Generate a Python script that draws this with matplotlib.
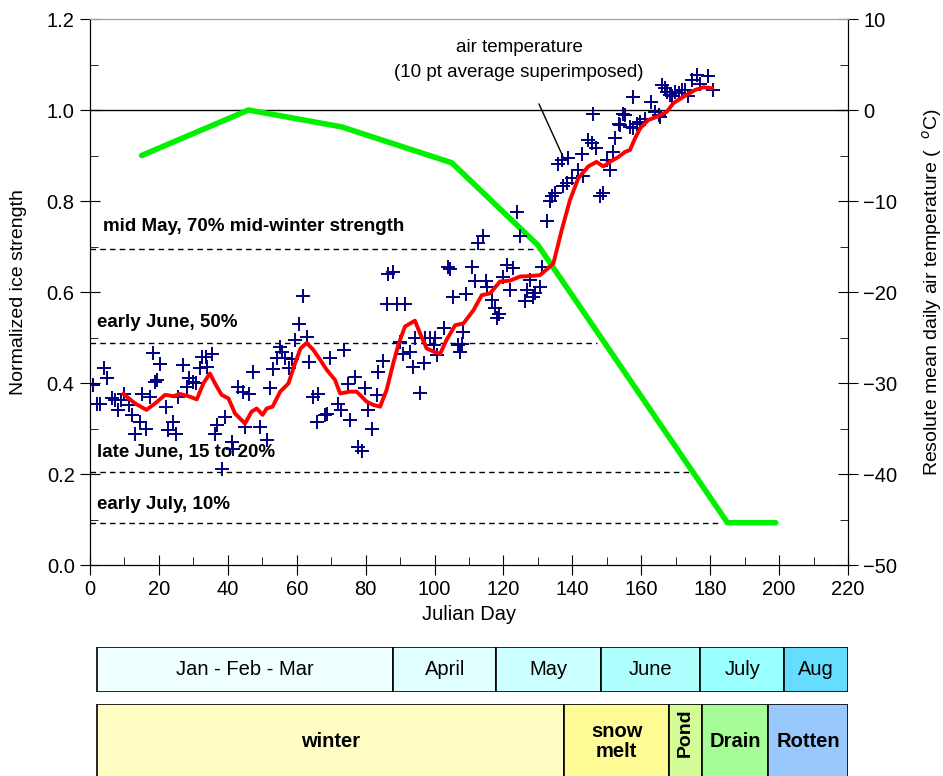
import matplotlib
matplotlib.use('Agg')
import matplotlib.pyplot as plt
import numpy as np

plt.rcParams['font.family'] = ['Liberation Sans', 'DejaVu Sans']

# ice strength (left axis)
ice_day = [15, 46, 73, 105, 130, 185, 199]
ice_strength = [0.90, 1.00, 0.963, 0.884, 0.703, 0.093, 0.093]

# daily air temperature, Resolute (right axis)
temp_day = [1.0, 1.9, 2.9, 4.1, 5.0, 6.3, 7.3, 8.2, 8.9, 9.9, 11.4, 12.1, 13.1, 14.5,
            15.0, 16.4, 17.4, 18.2, 18.9, 19.5, 20.3, 22.1, 22.7, 24.0, 25.1, 25.6,
            26.9, 28.1, 28.8, 30.0, 30.8, 31.9, 32.4, 33.7, 33.9, 35.3, 36.3, 36.8,
            38.2, 39.2, 41.1, 41.6, 43.0, 44.5, 45.0, 46.2, 47.2, 49.3, 51.3, 52.2,
            53.0, 54.2, 55.2, 55.6, 56.6, 57.9, 58.5, 59.5, 60.8, 61.7, 62.9, 63.7,
            64.8, 65.8, 66.3, 68.2, 68.7, 69.7, 72.1, 72.9, 73.8, 75.0, 75.5, 76.9,
            77.7, 78.9, 79.8, 80.8, 81.8, 83.2, 83.7, 85.1, 86.1, 86.6, 87.8, 89.0,
            90.0, 90.9, 91.4, 92.9, 93.8, 94.3, 95.8, 96.8, 97.2, 98.7, 99.7, 100.1,
            100.6, 102.6, 104.0, 104.5, 105.5, 106.9, 107.4, 107.9, 108.4, 109.0,
            110.8, 111.8, 112.7, 114.2, 114.8, 115.1, 116.8, 117.6, 118.0, 118.7,
            120.0, 120.9, 121.9, 122.9, 123.8, 124.8, 126.3, 126.7, 127.7, 128.7,
            129.2, 130.6, 131.3, 132.5, 133.5, 134.0, 135.0, 135.9, 136.9, 137.4,
            138.4, 138.8, 139.8, 141.7, 142.7, 143.2, 144.6, 145.6, 146.1, 147.0,
            148.0, 149.0, 150.0, 150.9, 151.9, 152.4, 153.4, 153.8, 154.8, 155.3,
            156.7, 157.7, 157.7, 158.7, 159.7, 161.1, 162.8, 164.0, 165.0, 165.5,
            166.0, 167.0, 167.4, 168.4, 168.9, 169.8, 170.8, 171.7, 172.7, 173.6,
            174.6, 176.1, 177.1, 179.5, 180.9]
temp_c = [-30.2, -32.3, -32.3, -28.4, -29.4, -31.7, -31.9, -33.0, -31.9, -31.2, -32.4,
          -33.5, -35.6, -34.3, -31.2, -35.0, -31.5, -26.7, -29.9, -29.7, -27.9, -32.6,
          -35.2, -34.3, -35.6, -31.5, -28.0, -30.4, -29.4, -29.9, -30.0, -28.4, -27.1,
          -27.1, -28.2, -26.8, -35.6, -34.6, -39.5, -33.7, -36.5, -37.2, -30.4, -31.0,
          -34.8, -31.2, -28.8, -34.8, -36.3, -30.6, -28.5, -27.3, -26.0, -26.6, -27.3,
          -28.4, -27.4, -25.3, -23.5, -20.4, -24.9, -27.7, -31.5, -34.3, -31.2, -33.5,
          -33.4, -27.3, -32.3, -33.0, -26.4, -30.1, -34.1, -29.3, -37.0, -37.5, -30.6,
          -33.0, -35.1, -31.3, -28.8, -27.6, -21.3, -18.0, -17.8, -21.3, -25.5, -26.8,
          -21.3, -26.6, -28.2, -25.1, -31.1, -27.8, -25.1, -25.1, -25.8, -25.1, -26.9,
          -24.0, -17.3, -17.5, -20.5, -25.8, -26.6, -25.7, -24.4, -20.2, -17.2, -18.8,
          -14.6, -13.9, -18.8, -19.4, -20.9, -21.8, -22.9, -22.4, -18.3, -17.0, -19.8,
          -17.4, -11.2, -13.9, -21.0, -19.8, -18.7, -20.5, -20.1, -19.4, -17.2, -12.2,
          -10.0, -9.5, -9.1, -5.9, -5.5, -8.4, -8.0, -5.3, -7.5, -6.6, -4.8, -7.2, -3.3,
          -3.6, -0.4, -4.2, -9.5, -9.1, -5.5, -6.6, -4.6, -3.1, -1.5, -1.7, -0.4, -0.6,
          -1.9, -2.0, 1.4, -1.5, -1.3, -1.0, 0.9, -0.2, -0.6, -0.8, 2.8, 2.4, 2.0, 1.7,
          1.5, 2.0, 1.9, 2.2, 2.2, 1.5, 3.3, 3.9, 2.9, 3.7, 2.2]

# 10 pt average
avg_day = [9.7, 13.1, 16.4, 18.9, 21.8, 24.2, 26.1, 29.0, 31.0, 32.9, 34.8, 36.3, 38.2,
           40.2, 42.1, 45.0, 46.9, 48.4, 50.1, 51.3, 53.0, 55.2, 57.6, 59.5, 61.1, 62.9,
           64.8, 66.8, 68.7, 71.1, 72.6, 75.5, 77.4, 80.3, 82.2, 84.2, 86.1, 88.0, 89.5,
           91.4, 94.3, 95.8, 97.7, 99.7, 101.6, 103.5, 106.0, 108.4, 111.3, 113.7, 116.1,
           119.0, 121.9, 124.8, 127.7, 130.6, 133.5, 134.5, 136.9, 139.3, 141.7, 144.6,
           147.0, 149.0, 150.9, 153.4, 155.3, 156.7, 158.2, 159.7, 162.0, 164.5, 167.4,
           169.3, 172.2, 175.6, 178.0, 180.4]
avg_c = [-31.2, -32.25, -32.95, -32.25, -31.3, -31.45, -31.2, -31.5, -31.8, -30.05, -28.95,
         -30.05, -31.3, -31.7, -33.35, -34.45, -33.15, -32.8, -33.5, -32.8, -32.6, -30.95,
         -30.05, -27.85, -26.2, -25.6, -26.35, -27.45, -28.55, -29.65, -31.15, -30.95,
         -30.95, -32.05, -32.4, -32.6, -30.75, -27.85, -25.8, -23.8, -23.15, -24.55, -26.2,
         -26.55, -26.8, -25.25, -23.65, -23.45, -22.0, -20.35, -20.15, -18.85, -18.75,
         -18.3, -18.25, -18.15, -17.2, -16.85, -13.2, -9.9, -7.5, -6.2, -5.7, -6.2, -5.7,
         -5.15, -4.6, -4.4, -3.1, -2.0, -1.1, -0.75, -0.2, 0.75, 1.45, 2.2, 2.5, 2.4]

# reference strength levels
level_labels = ['mid May, 70% mid-winter strength', 'early June, 50%',
                'late June, 15 to 20%', 'early July, 10%']
level_values = [0.694, 0.488, 0.204, 0.092]
level_end_day = [130.6, 147.2, 175.6, 182.9]

# calendar bars
month_names = ['Jan - Feb - Mar', 'April', 'May', 'June', 'July', 'Aug']
month_edges = [2.0, 88.0, 117.9, 148.3, 177.1, 201.5, 220.0]
month_colors = ['#F0FFFF', '#E0FFFF', '#CCFFFF', '#B0FFFF', '#99FFFF', '#66DDFF']
phase_names = ['winter', 'snow\nmelt', 'Pond', 'Drain', 'Rotten']
phase_edges = [2.0, 137.6, 168.1, 177.6, 196.8, 220.0]
phase_colors = ['#FFFCC4', '#FFFC96', '#D4FC96', '#A6FC96', '#99C8FC']

fig = plt.figure(figsize=(9.43, 7.76), dpi=100)
ax = fig.add_axes([0.0954, 0.2719, 0.8039, 0.7036])
ax2 = ax.twinx()

ax.plot(ice_day, ice_strength, color='#00F000', lw=4, solid_capstyle='round', zorder=3)
for lab, v, e in zip(level_labels, level_values, level_end_day):
    ax.plot([0, e], [v, v], color='black', ls=(0, (4, 3)), lw=1)
ax.text(3.8, 0.743, level_labels[0], fontsize=13.5, fontweight='bold', va='center')
ax.text(2.0, 0.534, level_labels[1], fontsize=13.5, fontweight='bold', va='center')
ax.text(2.0, 0.248, level_labels[2], fontsize=13.5, fontweight='bold', va='center')
ax.text(2.0, 0.132, level_labels[3], fontsize=13.5, fontweight='bold', va='center')
ax.axhline(1.0, color='black', lw=1)

ax.set_xlim(0, 220)
ax.set_ylim(0, 1.2)
ax.set_xticks(np.arange(0, 221, 20))
ax.set_xticks(np.arange(0, 221, 10), minor=True)
ax.set_yticks(np.arange(0, 1.21, 0.2))
ax.set_yticks(np.arange(0, 1.21, 0.1), minor=True)
ax.set_yticklabels(['%.1f' % t for t in np.arange(0, 1.21, 0.2)])
ax.tick_params(which='major', direction='inout', length=14, labelsize=14.5, pad=4)
ax.tick_params(which='minor', direction='in', length=6)
ax.set_xlabel('Julian Day', fontsize=14.5, labelpad=4)
ax.set_ylabel('Normalized ice strength', fontsize=14, labelpad=14)
ax.spines['top'].set_color('#A0A0A0')

ax2.plot(temp_day, temp_c, ls='none', marker='+', ms=10, mew=1.4, color='#000080')
ax2.plot(avg_day, avg_c, color='red', lw=2.8)
ax2.set_ylim(-50, 10)
ax2.set_yticks(np.arange(-50, 11, 10))
ax2.set_yticks(np.arange(-50, 11, 5), minor=True)
ax2.tick_params(which='major', direction='inout', length=14, labelsize=14.5, pad=4)
ax2.tick_params(which='minor', direction='in', length=6)
ax2.set_ylabel('Resolute mean daily air temperature (  $^{o}$C)', fontsize=14, labelpad=16)
ax2.spines['top'].set_color('#A0A0A0')

ax.annotate('air temperature\n(10 pt average superimposed)', xy=(137.3, 0.897),
            xytext=(124.5, 1.11), ha='center', va='center', fontsize=13.5,
            linespacing=1.6, arrowprops=dict(arrowstyle='-', color='black', lw=1,
                                             shrinkA=16, shrinkB=0))

# calendar and ice phase bars
bx1 = fig.add_axes([0.0954, 0.1082, 0.8039, 0.058])
for i, name in enumerate(month_names):
    bx1.bar(month_edges[i], 1, width=month_edges[i + 1] - month_edges[i], align='edge',
            color=month_colors[i], edgecolor='black', lw=1.2)
    bx1.text((month_edges[i] + month_edges[i + 1]) / 2, 0.5, name, ha='center',
             va='center', fontsize=14.5)
bx1.set_xlim(0, 220)
bx1.set_ylim(0, 1)
bx1.axis('off')

bx2 = fig.add_axes([0.0954, -0.005, 0.8039, 0.098])
for i, name in enumerate(phase_names):
    bx2.bar(phase_edges[i], 1, width=phase_edges[i + 1] - phase_edges[i], align='edge',
            color=phase_colors[i], edgecolor='black', lw=1.2)
    mid = (phase_edges[i] + phase_edges[i + 1]) / 2
    if name == 'Pond':
        bx2.text(mid, 0.62, name, ha='center', va='center', fontsize=14,
                 fontweight='bold', rotation=90)
    else:
        bx2.text(mid, 0.5, name, ha='center', va='center', fontsize=14.5,
                 fontweight='bold', linespacing=1.05)
bx2.set_xlim(0, 220)
bx2.set_ylim(0, 1)
bx2.axis('off')

fig.savefig('out.png', dpi=100)
